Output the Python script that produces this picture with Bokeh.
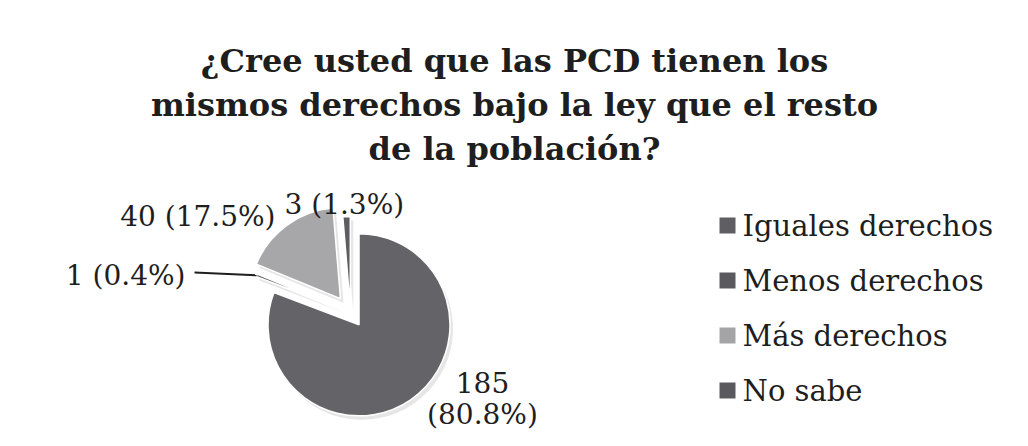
import numpy as np
from bokeh.plotting import figure
from bokeh.models import Range1d, ColumnDataSource
from bokeh.core.properties import value
from bokeh.embed import file_html
from bokeh.resources import INLINE

# ---- data ----
title_lines = ["¿Cree usted que las PCD tienen los",
               "mismos derechos bajo la ley que el resto",
               "de la población?"]
categories = ["Iguales derechos", "Menos derechos", "Más derechos", "No sabe"]
counts = [185, 1, 40, 3]

# ---- style ----
slice_colors = ["#646468", "#4e4e52", "#a7a7aa", "#5d5d61"]
legend_colors = ["#5f5f63", "#5a5a5e", "#a4a4a7", "#5a5a5e"]
explode = [15, 10, 17, 5]
SERIF = "DejaVu Serif"
TXT = "#1e1e1e"

W, H = 1012, 430
p = figure(width=W, height=H, x_range=Range1d(0, W), y_range=Range1d(0, H),
           output_backend="svg", toolbar_location=None, min_border=0,
           x_axis_location=None, y_axis_location=None)
p.grid.visible = False
p.outline_line_color = None
p.background_fill_color = "white"
p.border_fill_color = "white"

# ---- title ----
title_y = [370, 326, 282]
for line, ty in zip(title_lines, title_y):
    p.text(x=[514], y=[ty], text=[line], text_font=value(SERIF),
           text_font_style="bold", text_font_size="32px", text_color=TXT,
           text_align="center", text_baseline="alphabetic")

# ---- pie ----
cx, cy, R = 350, 118, 91
vals = np.array(counts, dtype=float)
frac = vals / vals.sum()
end_c = np.cumsum(frac) * 2 * np.pi
start_c = end_c - frac * 2 * np.pi
mid_c = (start_c + end_c) / 2
dx, dy = np.sin(mid_c), np.cos(mid_c)
ex = np.array(explode, dtype=float)
src = ColumnDataSource(dict(
    x=cx + ex * dx, y=cy + ex * dy,
    sx=cx + ex * dx + 3, sy=cy + ex * dy - 4,
    start=np.pi / 2 - end_c, end=np.pi / 2 - start_c,
    color=slice_colors, cat=categories))

# soft shadow
p.wedge(x="sx", y="sy", radius=R, start_angle="start", end_angle="end",
        direction="anticlock", fill_color="#c8c8c8", fill_alpha=0.45,
        line_color=None, source=src)
p.wedge(x="x", y="y", radius=R, start_angle="start", end_angle="end",
        direction="anticlock", fill_color="color", line_color="white",
        line_width=1.5, source=src)

# ---- data labels ----
pct = frac * 100
labels = [f"{c} ({q:.1f}%)" for c, q in zip(counts, pct)]
labels[0] = f"{counts[0]}\n({pct[0]:.1f}%)"
lab_x = [482, 185, 275, 284]
lab_y = [48, 155, 214, 226]
lab_align = ["center", "right", "right", "left"]
line_gap = 32
for t, lx, ly, la in zip(labels, lab_x, lab_y, lab_align):
    parts = t.split("\n")
    p.text(x=[lx] * len(parts), y=[ly - k * line_gap for k in range(len(parts))],
           text=parts, text_font=value(SERIF), text_font_size="28px",
           text_color=TXT, text_align=la, text_baseline="alphabetic")

# leader line for the small "Menos derechos" slice
i = 1
ex_pt = cx + (explode[i] + R) * dx[i]
ey_pt = cy + (explode[i] + R) * dy[i]
p.line(x=[lab_x[i] + 9, ex_pt], y=[lab_y[i] + 3, ey_pt],
       line_color="#1e1e1e", line_width=2)

# ---- legend ----
leg_x, leg_y0, leg_step = 727, 205, 55
ly = [leg_y0 - k * leg_step for k in range(len(categories))]
p.scatter(x=[leg_x] * len(categories), y=ly, marker="square", size=16,
          fill_color=legend_colors, line_color=None)
p.text(x=[leg_x + 15] * len(categories), y=ly, text=categories,
       text_font=value(SERIF), text_font_size="29px", text_color=TXT,
       text_align="left", text_baseline="middle")

open("out.html", "w").write(file_html(p, INLINE))
